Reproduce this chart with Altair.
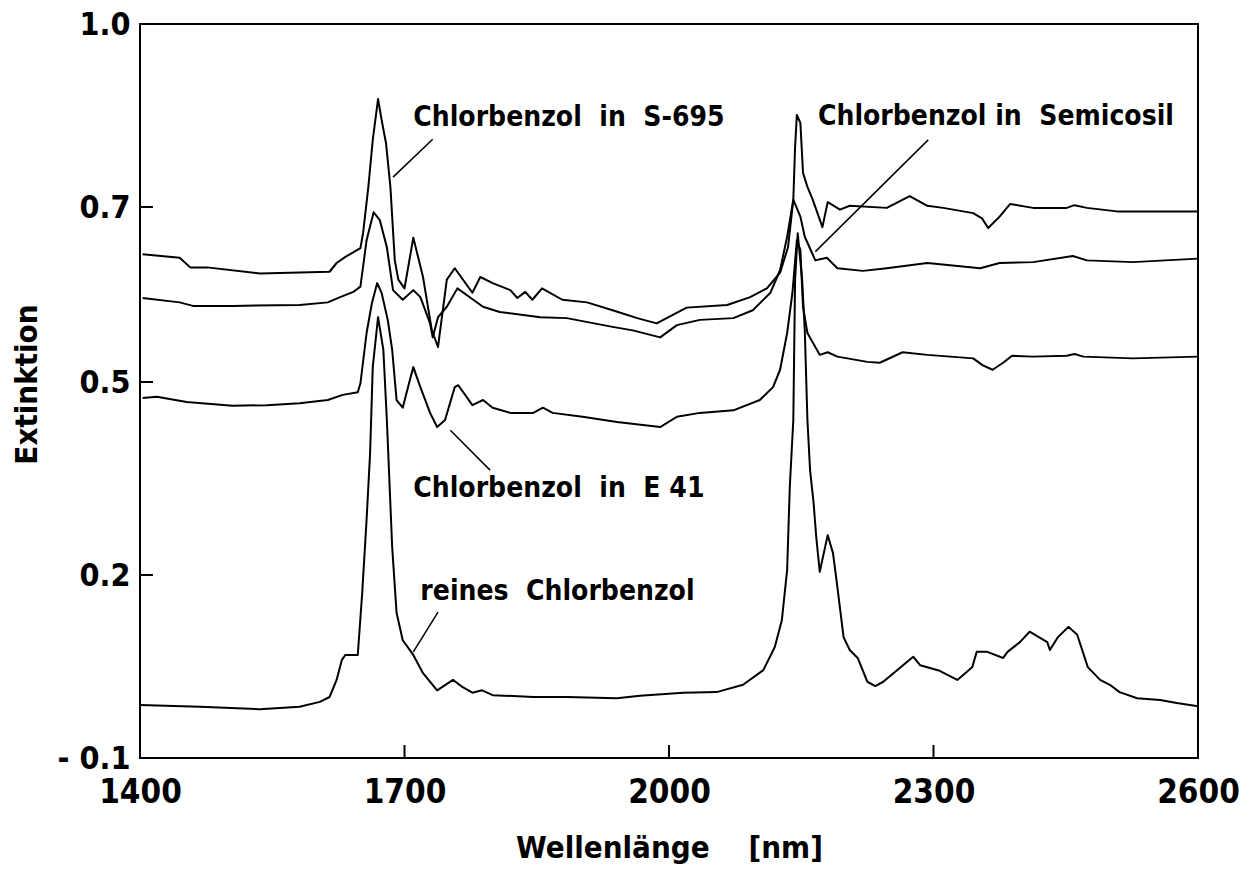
import altair as alt
import pandas as pd

# ---------------- data ----------------
# Chlorbenzol in S-695
A_nm = [1403, 1445, 1457, 1476, 1536, 1615, 1623, 1633, 1650, 1653, 1659, 1664, 1670, 1674, 1679, 1684,
        1689, 1693, 1700, 1710, 1721, 1731, 1738, 1748, 1757, 1777, 1786, 1800, 1820, 1828, 1837, 1845,
        1856, 1879, 1907, 1936, 1964, 1986, 2020, 2066, 2092, 2111, 2126, 2135, 2141, 2143, 2145, 2149,
        2152, 2157, 2163, 2174, 2180, 2194, 2205, 2247, 2273, 2293, 2311, 2345, 2355, 2362, 2375, 2387,
        2413, 2451, 2460, 2474, 2508, 2600]
A_val = [0.646, 0.642, 0.631, 0.631, 0.624, 0.626, 0.636, 0.643, 0.653, 0.670, 0.733, 0.810, 0.877, 0.843,
         0.805, 0.733, 0.639, 0.617, 0.607, 0.665, 0.620, 0.559, 0.540, 0.617, 0.630, 0.602, 0.620, 0.613,
         0.605, 0.596, 0.603, 0.594, 0.607, 0.594, 0.591, 0.582, 0.573, 0.567, 0.585, 0.588, 0.597, 0.607,
         0.625, 0.654, 0.712, 0.798, 0.851, 0.838, 0.756, 0.733, 0.712, 0.677, 0.708, 0.697, 0.702, 0.699,
         0.718, 0.702, 0.699, 0.693, 0.687, 0.676, 0.689, 0.705, 0.699, 0.699, 0.703, 0.699, 0.695, 0.695]

# Chlorbenzol in Semicosil
B_nm = [1403, 1445, 1460, 1505, 1581, 1613, 1627, 1642, 1650, 1657, 1665, 1672, 1680, 1687, 1698, 1710,
        1718, 1729, 1732, 1738, 1748, 1760, 1778, 1789, 1808, 1854, 1884, 1936, 1959, 1990, 2009, 2035,
        2073, 2095, 2115, 2126, 2134, 2141, 2149, 2154, 2166, 2179, 2191, 2220, 2247, 2293, 2353, 2375,
        2413, 2458, 2474, 2526, 2600]
B_val = [0.596, 0.591, 0.587, 0.587, 0.588, 0.591, 0.597, 0.603, 0.609, 0.662, 0.694, 0.685, 0.654, 0.605,
         0.594, 0.605, 0.597, 0.567, 0.551, 0.574, 0.586, 0.607, 0.594, 0.586, 0.580, 0.574, 0.573, 0.563,
         0.559, 0.551, 0.565, 0.571, 0.573, 0.582, 0.602, 0.628, 0.666, 0.712, 0.689, 0.666, 0.639, 0.642,
         0.630, 0.627, 0.630, 0.636, 0.630, 0.636, 0.637, 0.644, 0.639, 0.637, 0.641]

# Chlorbenzol in E 41
C_nm = [1403, 1419, 1453, 1505, 1544, 1581, 1613, 1630, 1647, 1650, 1657, 1663, 1669, 1674, 1681, 1686,
        1691, 1698, 1706, 1710, 1718, 1729, 1737, 1746, 1757, 1761, 1777, 1789, 1800, 1820, 1846, 1857,
        1868, 1902, 1941, 1990, 2009, 2035, 2073, 2103, 2118, 2126, 2134, 2140, 2145, 2149, 2152, 2157,
        2171, 2180, 2191, 2225, 2239, 2265, 2293, 2345, 2356, 2367, 2379, 2389, 2413, 2451, 2460, 2470,
        2526, 2600]
C_val = [0.475, 0.477, 0.469, 0.463, 0.464, 0.467, 0.472, 0.480, 0.484, 0.498, 0.556, 0.590, 0.613, 0.602,
         0.571, 0.537, 0.472, 0.460, 0.502, 0.517, 0.492, 0.452, 0.430, 0.441, 0.492, 0.495, 0.464, 0.472,
         0.460, 0.452, 0.452, 0.460, 0.452, 0.446, 0.438, 0.430, 0.446, 0.452, 0.456, 0.472, 0.492, 0.514,
         0.556, 0.602, 0.662, 0.651, 0.586, 0.556, 0.531, 0.534, 0.529, 0.523, 0.522, 0.534, 0.531, 0.527,
         0.519, 0.514, 0.522, 0.530, 0.529, 0.530, 0.532, 0.529, 0.527, 0.529]

# reines Chlorbenzol
D_nm = [1400, 1468, 1536, 1581, 1604, 1615, 1623, 1629, 1633, 1647, 1652, 1657, 1661, 1664, 1670, 1676,
        1680, 1686, 1691, 1698, 1710, 1721, 1737, 1755, 1766, 1777, 1788, 1800, 1846, 1884, 1941, 1967,
        2016, 2054, 2084, 2107, 2120, 2128, 2134, 2137, 2141, 2143, 2146, 2151, 2154, 2157, 2160, 2164,
        2167, 2171, 2180, 2186, 2191, 2198, 2205, 2214, 2225, 2234, 2243, 2277, 2285, 2307, 2327, 2336,
        2344, 2349, 2361, 2379, 2384, 2398, 2409, 2429, 2432, 2441, 2453, 2463, 2475, 2489, 2500, 2511,
        2531, 2557, 2576, 2600]
D_val = [-0.013, -0.016, -0.020, -0.016, -0.008, 0.000, 0.028, 0.061, 0.069, 0.069, 0.170, 0.286, 0.390,
         0.517, 0.574, 0.537, 0.441, 0.244, 0.138, 0.093, 0.069, 0.039, 0.011, 0.028, 0.016, 0.007, 0.011,
         0.003, 0.000, 0.000, -0.002, 0.002, 0.007, 0.008, 0.020, 0.044, 0.082, 0.126, 0.208, 0.337, 0.441,
         0.617, 0.670, 0.617, 0.559, 0.441, 0.363, 0.312, 0.259, 0.205, 0.262, 0.234, 0.180, 0.098, 0.077,
         0.064, 0.025, 0.018, 0.025, 0.066, 0.052, 0.043, 0.028, 0.039, 0.049, 0.074, 0.074, 0.064, 0.074,
         0.090, 0.107, 0.090, 0.077, 0.098, 0.115, 0.102, 0.049, 0.028, 0.020, 0.008, -0.002, -0.005,
         -0.010, -0.015]

SERIES = ["Chlorbenzol in S-695", "Chlorbenzol in Semicosil", "Chlorbenzol in E 41", "reines Chlorbenzol"]

# axis ticks (the reference axis is labelled 1.0 / 0.7 / 0.5 / 0.2 / -0.1)
X_TICKS = [1400, 1700, 2000, 2300, 2600]
Y_TICKS = [1.0, 0.7, 0.5, 0.2, -0.1]

# curve labels
LABEL_TEXT = ["Chlorbenzol\u00a0\u00a0in\u00a0\u00a0S-695", "Chlorbenzol in\u00a0\u00a0Semicosil",
              "Chlorbenzol\u00a0\u00a0in\u00a0\u00a0E\u00a041", "reines\u00a0\u00a0Chlorbenzol"]
LABEL_NM = [1710, 2169, 1710, 1718]
LABEL_EXT = [0.846, 0.848, 0.334, 0.172]

# leader lines (label end -> curve end)
LEAD_NM1 = [1732, 2294, 1752, 1738]
LEAD_EXT1 = [0.811, 0.810, 0.425, 0.139]
LEAD_NM2 = [1687, 2166, 1797, 1710]
LEAD_EXT2 = [0.749, 0.649, 0.363, 0.074]

# ---------------- tables ----------------
frames = []
for name, xs, ys in zip(SERIES, [A_nm, B_nm, C_nm, D_nm], [A_val, B_val, C_val, D_val]):
    assert len(xs) == len(ys), name
    frames.append(pd.DataFrame({"serie": name, "nm": xs, "ext": ys}))
df = pd.concat(frames, ignore_index=True)

labels = pd.DataFrame({"txt": LABEL_TEXT, "nm": LABEL_NM, "ext": LABEL_EXT})
leaders = pd.DataFrame({"nm": LEAD_NM1, "ext": LEAD_EXT1, "nm2": LEAD_NM2, "ext2": LEAD_EXT2})
xt = pd.DataFrame({"v": X_TICKS[1:-1]})
yt = pd.DataFrame({"v": Y_TICKS[1:-1]})

# ---------------- chart ----------------
W, H = 1058, 734
FONT = "Liberation Sans Narrow, DejaVu Sans Condensed, Roboto, sans-serif"

x_scale = alt.Scale(domain=[1400, 2600], nice=False, zero=False)
# the printed axis is not evenly divided: piecewise-linear between the labelled values
y_scale = alt.Scale(domain=[-0.1, 0.2, 0.5, 0.7, 1.0], range=[H, 551, 358, 183, 0],
                    nice=False, zero=False)

x_axis = alt.Axis(values=X_TICKS, format="d", title="Wellenlänge\u00a0\u00a0\u00a0\u00a0[nm]", grid=False,
                  domain=False, ticks=False, tickSize=0, labelPadding=18, labelFontSize=33,
                  labelFontWeight="bold", labelFont=FONT, labelColor="black", labelFlush=False,
                  labelOverlap=False,
                  titleFont=FONT, titleFontSize=31, titleFontWeight="bold", titleColor="black",
                  titleY=90, titleBaseline="middle")
y_axis = alt.Axis(values=Y_TICKS, title="Extinktion", grid=False, domain=False, ticks=False,
                  tickSize=0, labelPadding=10, labelFontSize=32, labelFontWeight="bold", labelFont=FONT,
                  labelColor="black", labelFlush=False, labelOverlap=False, labelBaseline="middle",
                  labelExpr="datum.value < 0 ? '- ' + format(-datum.value, '.1f') : format(datum.value, '.1f')",
                  titleFont=FONT, titleFontSize=31, titleFontWeight="bold", titleColor="black",
                  titleX=-113, titleY=360, titleAngle=270, titleAlign="center", titleBaseline="middle")

lines = alt.Chart(df).mark_line(color="black", strokeWidth=2, strokeJoin="round").encode(
    x=alt.X("nm:Q", scale=x_scale, axis=x_axis),
    y=alt.Y("ext:Q", scale=y_scale, axis=y_axis),
    detail="serie:N",
)

yticks = alt.Chart(yt).mark_rule(color="black", strokeWidth=2).encode(
    y=alt.Y("v:Q", scale=y_scale), x=alt.value(0), x2=alt.value(13))
xticks = alt.Chart(xt).mark_rule(color="black", strokeWidth=2).encode(
    x=alt.X("v:Q", scale=x_scale), y=alt.value(H), y2=alt.value(H - 13))

leader = alt.Chart(leaders).mark_rule(color="black", strokeWidth=1.5).encode(
    x=alt.X("nm:Q", scale=x_scale), y=alt.Y("ext:Q", scale=y_scale),
    x2="nm2:Q", y2="ext2:Q")

text = alt.Chart(labels).mark_text(align="left", baseline="middle", font=FONT, fontSize=28,
                                   fontWeight="bold", color="black").encode(
    x=alt.X("nm:Q", scale=x_scale), y=alt.Y("ext:Q", scale=y_scale), text="txt:N")

chart = alt.layer(lines, yticks, xticks, leader, text).properties(
    width=W, height=H,
    autosize=alt.AutoSizeParams(type="none"),
    padding={"left": 140, "top": 24, "right": 53, "bottom": 117},
    background="white",
).configure_view(stroke="black", strokeWidth=2)

chart.save("out.html", embed_options={"renderer": "svg", "actions": False})
